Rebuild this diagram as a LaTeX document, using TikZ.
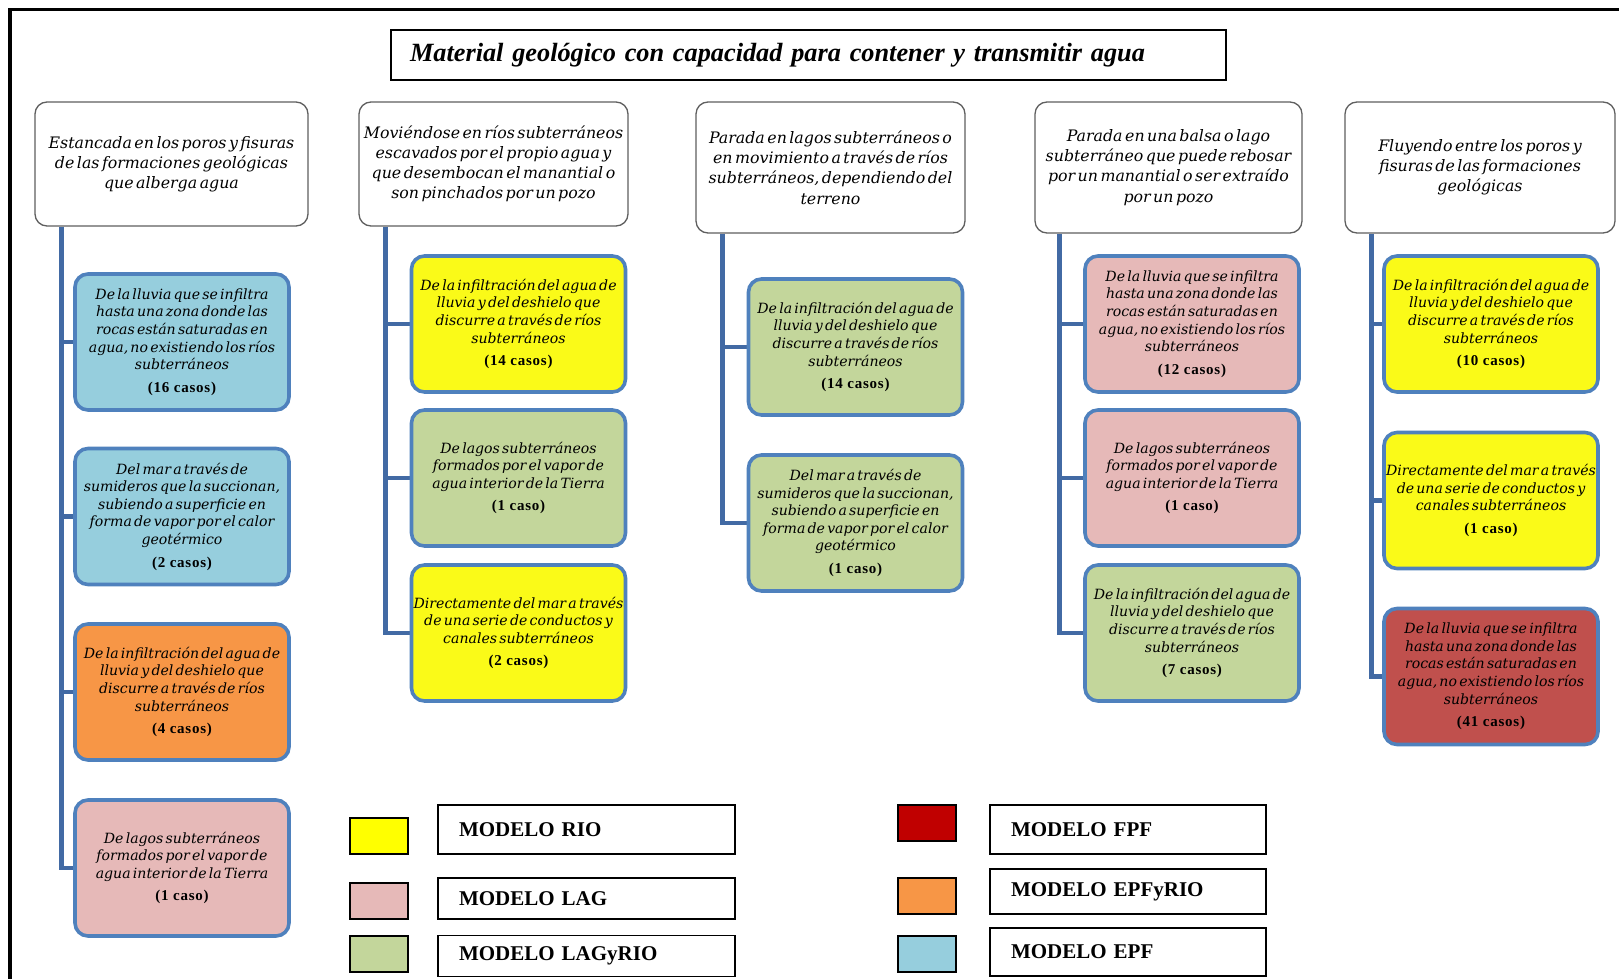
\documentclass[tikz,border=0pt]{standalone}
\usepackage{fontspec}
\setmainfont{Liberation Serif}
\newfontfamily\descfont[WordSpace=0.5]{DejaVu Serif}
\newfontfamily\countfont[LetterSpace=5]{Liberation Serif}
\usetikzlibrary{backgrounds}

\definecolor{headgray}{RGB}{95,95,95}
\definecolor{leafedge}{RGB}{79,129,189}
\definecolor{linkblue}{RGB}{66,106,164}
\definecolor{cEPF}{RGB}{150,206,221}
\definecolor{cEPFRIO}{RGB}{247,150,70}
\definecolor{cLAG}{RGB}{230,185,184}
\definecolor{cLAGRIO}{RGB}{195,214,155}
\definecolor{cRIO}{RGB}{255,255,0}
\definecolor{cRIObox}{RGB}{250,250,24}
\definecolor{cFPFbox}{RGB}{192,80,77}
\definecolor{cFPF}{RGB}{192,0,0}

\newcommand{\ncases}[1]{\\[5pt]{\countfont\upshape\bfseries\fontsize{15}{17}\selectfont(#1)}}

\tikzset{
  header/.style={draw=headgray, line width=1.3pt, rounded corners=12pt, fill=white,
    align=center, inner sep=0pt,
    font=\descfont\itshape\fontsize{15.8}{20.2}\selectfont},
  leaf/.style={draw=leafedge, line width=3.6pt, rounded corners=13pt, align=center,
    inner sep=0pt, minimum width=214pt, minimum height=136pt,
    font=\descfont\itshape\fontsize{14.1}{17.6}\selectfont},
  link/.style={draw=linkblue, line width=4.5pt},
  swatch/.style={draw=black, line width=1.8pt, minimum width=58pt, minimum height=36pt, inner sep=0pt},
  keybox/.style={draw=black, line width=1.8pt, inner xsep=21pt, inner ysep=0pt, align=left,
    font=\bfseries\fontsize{21}{24}\selectfont},
  titlebox/.style={draw=black, line width=2pt, inner xsep=19pt, inner ysep=0pt,
    minimum height=50pt, text width=797pt, align=left,
    font=\bfseries\itshape\fontsize{26.3}{30}\selectfont}
}

\begin{document}
\begin{tikzpicture}[x=1pt,y=-1pt]
\useasboundingbox (0,0) rectangle (1619,979);
\clip (0,0) rectangle (1619,979);

% outer frame
\draw[line width=3.5pt] (10,9.5) rectangle (1660,1020);

% title
\node[titlebox] (title) at (808.5,55) {Material geológico con capacidad para contener y transmitir agua};

% column headers
\node[header, minimum width=273pt, minimum height=124pt] (h1) at (171.5,164)
  {Estancada en los poros y fisuras\\de las formaciones geológicas\\que alberga agua};
\node[header, minimum width=269pt, minimum height=124pt] (h2) at (493.5,164)
  {Moviéndose en ríos subterráneos\\escavados por el propio agua y\\que desembocan el manantial o\\son pinchados por un pozo};
\node[header, minimum width=269pt, minimum height=131pt] (h3) at (830.5,167.5)
  {Parada en lagos subterráneos o\\en movimiento a través de ríos\\subterráneos, dependiendo del\\terreno};
\node[header, minimum width=267pt, minimum height=131pt] (h4) at (1168.5,167.5)
  {Parada en una balsa o lago\\subterráneo que puede rebosar\\por un manantial o ser extraído\\por un pozo};
\node[header, minimum width=270pt, minimum height=131pt] (h5) at (1480,167.5)
  {Fluyendo entre los poros y\\fisuras de las formaciones\\geológicas};

% column 1
\node[leaf, fill=cEPF] (c1a) at (182,342)
  {De la lluvia que se infiltra\\hasta una zona donde las\\rocas están saturadas en\\agua, no existiendo los ríos\\subterráneos\ncases{16 casos}};
\node[leaf, fill=cEPF] (c1b) at (182,516.5)
  {Del mar a través de\\sumideros que la succionan,\\subiendo a superficie en\\forma de vapor por el calor\\geotérmico\ncases{2 casos}};
\node[leaf, fill=cEPFRIO] (c1c) at (182,692)
  {De la infiltración del agua de\\lluvia y del deshielo que\\discurre a través de ríos\\subterráneos\ncases{4 casos}};
\node[leaf, fill=cLAG] (c1d) at (182,868)
  {De lagos subterráneos\\formados por el vapor de\\agua interior de la Tierra\ncases{1 caso}};

% column 2
\node[leaf, fill=cRIObox] (c2a) at (518.5,324)
  {De la infiltración del agua de\\lluvia y del deshielo que\\discurre a través de ríos\\subterráneos\ncases{14 casos}};
\node[leaf, fill=cLAGRIO] (c2b) at (518.5,478)
  {De lagos subterráneos\\formados por el vapor de\\agua interior de la Tierra\ncases{1 caso}};
\node[leaf, fill=cRIObox] (c2c) at (518.5,633)
  {Directamente del mar a través\\de una serie de conductos y\\canales subterráneos\ncases{2 casos}};

% column 3
\node[leaf, fill=cLAGRIO] (c3a) at (855.5,347)
  {De la infiltración del agua de\\lluvia y del deshielo que\\discurre a través de ríos\\subterráneos\ncases{14 casos}};
\node[leaf, fill=cLAGRIO] (c3b) at (855.5,523)
  {Del mar a través de\\sumideros que la succionan,\\subiendo a superficie en\\forma de vapor por el calor\\geotérmico\ncases{1 caso}};

% column 4
\node[leaf, fill=cLAG] (c4a) at (1192,324)
  {De la lluvia que se infiltra\\hasta una zona donde las\\rocas están saturadas en\\agua, no existiendo los ríos\\subterráneos\ncases{12 casos}};
\node[leaf, fill=cLAG] (c4b) at (1192,478)
  {De lagos subterráneos\\formados por el vapor de\\agua interior de la Tierra\ncases{1 caso}};
\node[leaf, fill=cLAGRIO] (c4c) at (1192,633)
  {De la infiltración del agua de\\lluvia y del deshielo que\\discurre a través de ríos\\subterráneos\ncases{7 casos}};

% column 5
\node[leaf, fill=cRIObox] (c5a) at (1491,324)
  {De la infiltración del agua de\\lluvia y del deshielo que\\discurre a través de ríos\\subterráneos\ncases{10 casos}};
\node[leaf, fill=cRIObox] (c5b) at (1491,500.5)
  {Directamente del mar a través\\de una serie de conductos y\\canales subterráneos\ncases{1 caso}};
\node[leaf, fill=cFPFbox] (c5c) at (1491,676.5)
  {De la lluvia que se infiltra\\hasta una zona donde las\\rocas están saturadas en\\agua, no existiendo los ríos\\subterráneos\ncases{41 casos}};

% tree connectors
\coordinate (v1) at ([xshift=27pt]h1.south west);
\coordinate (v2) at ([xshift=27pt]h2.south west);
\coordinate (v3) at ([xshift=27pt]h3.south west);
\coordinate (v4) at ([xshift=25pt]h4.south west);
\coordinate (v5) at ([xshift=27pt]h5.south west);
\begin{scope}[on background layer]
  \fill[white] (0,0) rectangle (1619,979);
  \draw[link] (v1) |- (c1d.west);
  \draw[link] (v1 |- c1a.west) -- (c1a.west);
  \draw[link] (v1 |- c1b.west) -- (c1b.west);
  \draw[link] (v1 |- c1c.west) -- (c1c.west);
  \draw[link] (v2) |- (c2c.west);
  \draw[link] (v2 |- c2a.west) -- (c2a.west);
  \draw[link] (v2 |- c2b.west) -- (c2b.west);
  \draw[link] (v3) |- (c3b.west);
  \draw[link] (v3 |- c3a.west) -- (c3a.west);
  \draw[link] (v4) |- (c4c.west);
  \draw[link] (v4 |- c4a.west) -- (c4a.west);
  \draw[link] (v4 |- c4b.west) -- (c4b.west);
  \draw[link] (v5) |- (c5c.west);
  \draw[link] (v5 |- c5a.west) -- (c5a.west);
  \draw[link] (v5 |- c5b.west) -- (c5b.west);
\end{scope}

% key
\node[swatch, fill=cRIO] (kRIO) at (379,836) {};
\node[swatch, fill=cLAG] (kLAG) at (379,901) {};
\node[swatch, fill=cLAGRIO] (kLAGRIO) at (379,954) {};
\node[swatch, fill=cFPF] (kFPF) at (927,823) {};
\node[swatch, fill=cEPFRIO] (kEPFRIO) at (927,896) {};
\node[swatch, fill=cEPF] (kEPF) at (927,954) {};

\node[keybox, text width=255pt, minimum height=49pt] (lRIO) at (586.5,829.5) {MODELO RIO};
\node[keybox, text width=255pt, minimum height=41pt] (lLAG) at (586.5,898.5) {MODELO LAG};
\node[keybox, text width=255pt, minimum height=41pt] (lLAGRIO) at (586.5,956) {MODELO LAGyRIO};
\node[keybox, text width=234pt, minimum height=49pt] (lFPF) at (1128,829.5) {MODELO FPF};
\node[keybox, text width=234pt, minimum height=45pt] (lEPFRIO) at (1128,891.5) {MODELO EPFyRIO};
\node[keybox, text width=234pt, minimum height=48pt] (lEPF) at (1128,952) {MODELO EPF};
\end{tikzpicture}
\end{document}
